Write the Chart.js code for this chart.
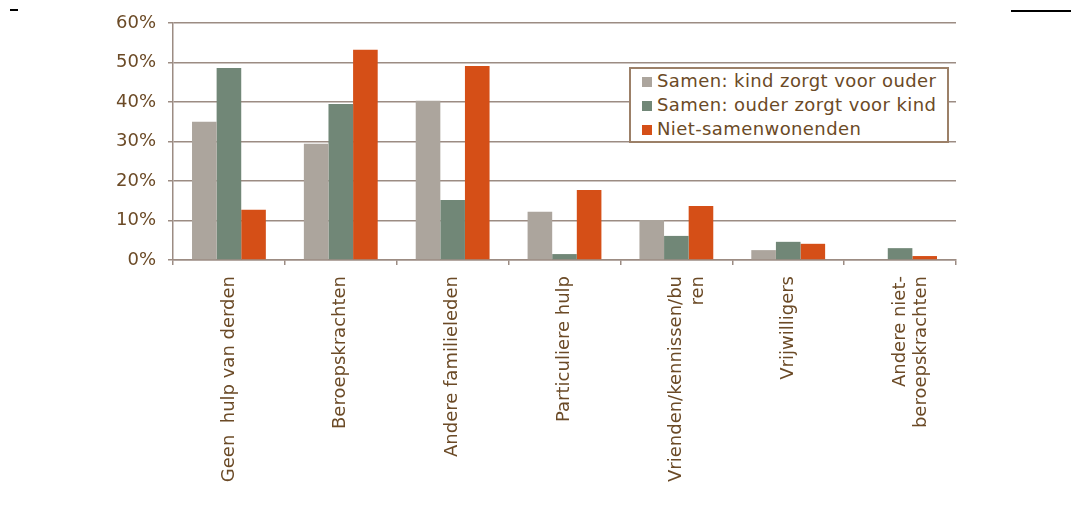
<!DOCTYPE html>
<html>
<head>
<meta charset="utf-8">
<script src="https://cdn.jsdelivr.net/npm/chart.js@4.4.1/dist/chart.umd.min.js"></script>
<style>
  html, body { margin: 0; padding: 0; background: #fff; }
  #wrap { position: relative; width: 1085px; height: 527px; }
  #mark1 { position: absolute; left: 10px; top: 9px; width: 8px; height: 2px; background: #000; }
  #mark2 { position: absolute; left: 1011px; top: 10px; width: 60px; height: 2px; background: #000; }
  #legend {
    position: absolute; left: 629px; top: 67px; width: 316px; height: 72px;
    border: 2px solid #9c8068; background: #fff; box-sizing: content-box;
    font-family: "DejaVu Sans", Verdana, sans-serif; font-size: 18px; color: #6b4a26;
    letter-spacing: 0.4px;
  }
  #legend div { position: absolute; left: 11px; height: 24px; line-height: 24px; white-space: nowrap; }
  #legend span { display: inline-block; width: 10px; height: 10px; margin-right: 5px; vertical-align: 0px; }
</style>
</head>
<body>
<div id="wrap">
  <canvas id="barChart" width="1085" height="527"></canvas>
  <div id="mark1"></div>
  <div id="mark2"></div>
  <div id="legend"></div>
</div>
<script>
// categorieën en waarden (in %)
const categories = [
  'Geen  hulp van derden',
  'Beroepskrachten',
  'Andere familieleden',
  'Particuliere hulp',
  ['Vrienden/kennissen/bu', 'ren'],
  'Vrijwilligers',
  ['Andere niet-', 'beroepskrachten']
];
const seriesNames = [
  'Samen: kind zorgt voor ouder',
  'Samen: ouder zorgt voor kind',
  'Niet-samenwonenden'
];
const kindVoorOuder = [35, 29.4, 40.3, 12.2, 10.1, 2.5, 0];
const ouderVoorKind = [48.6, 39.5, 15.2, 1.5, 6.1, 4.6, 3.0];
const nietSamen = [12.7, 53.2, 49.1, 17.7, 13.7, 4.1, 1.0];
const yTicks = [0, 10, 20, 30, 40, 50, 60];

const colors = ['#aca59d', '#718777', '#d54f17'];
const textColor = '#6b4a26';
const gridColor = '#9c8c83';
const fontFamily = '"DejaVu Sans", Verdana, sans-serif';

// legende zelf opbouwen
const legend = document.getElementById('legend');
seriesNames.forEach(function (name, i) {
  const row = document.createElement('div');
  row.style.top = (0 + i * 24) + 'px';
  row.innerHTML = '<span style="background:' + colors[i] + '"></span>' + name;
  legend.appendChild(row);
});

const ctx = document.getElementById('barChart').getContext('2d');
const barChart = new Chart(ctx, {
  type: 'bar',
  data: {
    labels: categories,
    datasets: [kindVoorOuder, ouderVoorKind, nietSamen].map(function (values, i) {
      return {
        label: seriesNames[i],
        data: values,
        backgroundColor: colors[i],
        barPercentage: 1,
        categoryPercentage: 0.66
      };
    })
  },
  options: {
    responsive: false,
    animation: false,
    layout: { padding: { top: 23, right: 129, left: 0, bottom: 0 } },
    plugins: { legend: { display: false }, tooltip: { enabled: false } },
    scales: {
      x: {
        grid: { offset: true, drawOnChartArea: false, color: gridColor, lineWidth: 1.5, tickLength: 5 },
        border: { color: gridColor, width: 1.5 },
        ticks: {
          color: textColor,
          font: { family: fontFamily, size: 18 },
          minRotation: 90, maxRotation: 90, padding: 11, autoSkip: false
        },
        afterFit: function (scale) { scale.height = 267; }
      },
      y: {
        min: 0, max: 60,
        afterBuildTicks: function (scale) {
          scale.ticks = yTicks.map(function (v) { return { value: v }; });
        },
        grid: { color: gridColor, lineWidth: 1.5, tickLength: 5 },
        border: { color: gridColor, width: 1.5 },
        ticks: {
          color: textColor,
          font: { family: fontFamily, size: 18 },
          padding: 12,
          callback: function (v) { return v + '%'; }
        },
        afterFit: function (scale) { scale.width = 173; }
      }
    }
  }
});
</script>
</body>
</html>
